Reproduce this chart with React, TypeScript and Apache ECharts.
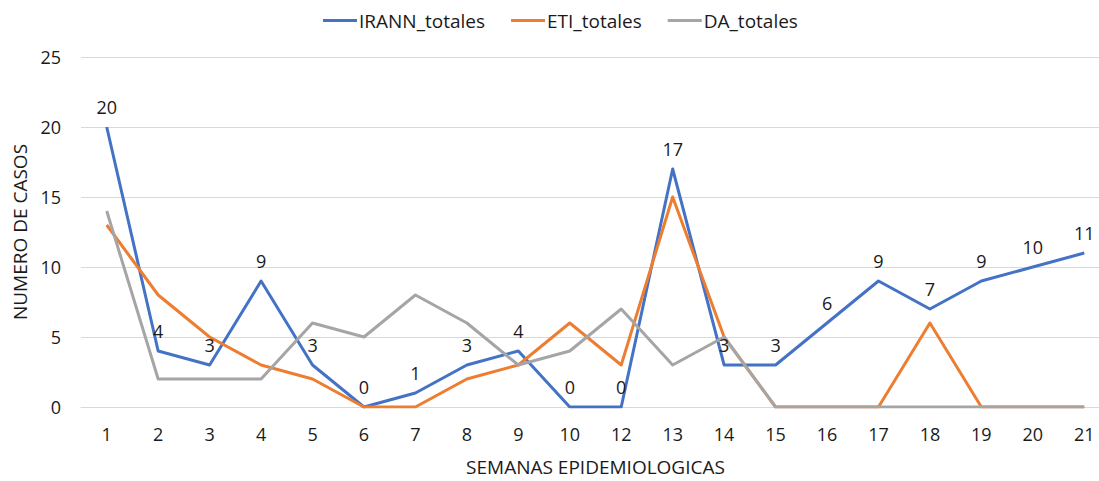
import React, { useEffect, useRef } from "react";
import * as echarts from "echarts";

const categories = ["1", "2", "3", "4", "5", "6", "7", "8", "9", "10", "12", "13", "14", "15", "16", "17", "18", "19", "20", "21"];
const irann = [20, 4, 3, 9, 3, 0, 1, 3, 4, 0, 0, 17, 3, 3, 6, 9, 7, 9, 10, 11];
const eti = [13, 8, 5, 3, 2, 0, 0, 2, 3, 6, 3, 15, 5, 0, 0, 0, 6, 0, 0, 0];
const da = [14, 2, 2, 2, 6, 5, 8, 6, 3, 4, 7, 3, 5, 0, 0, 0, 0, 0, 0, 0];

const FONT = "'Open Sans', sans-serif";
const TXT = "#1a1a1a";

export default function App() {
  const ref = useRef<HTMLDivElement>(null);
  useEffect(() => {
    document.body.style.margin = "0";
    document.body.style.overflow = "hidden";
    const chart = echarts.init(ref.current!, null, { renderer: "svg" });
    const lineSeries = (name: string, data: number[], color: string, labels: boolean) => ({
      name,
      type: "line",
      data,
      symbol: "circle",
      symbolSize: 0,
      showSymbol: true,
      lineStyle: { color, width: 3, join: "round" },
      itemStyle: { color },
      emphasis: { disabled: true },
      label: labels
        ? { show: true, position: "top", distance: 11, color: TXT, fontSize: 18, fontFamily: FONT }
        : { show: false },
    });
    chart.setOption({
      animation: false,
      textStyle: { fontFamily: FONT },
      legend: {
        top: 6,
        left: 318,
        itemWidth: 34,
        itemHeight: 3,
        itemGap: 26,
        icon: "rect",
        textStyle: { fontSize: 19, color: TXT, fontFamily: FONT, padding: [0, 0, 0, -3] },
        data: ["IRANN_totales", "ETI_totales", "DA_totales"],
      },
      grid: { left: 81, right: 0, top: 57, bottom: 71, containLabel: false },
      xAxis: {
        type: "category",
        data: categories,
        boundaryGap: true,
        name: "SEMANAS EPIDEMIOLOGICAS",
        nameLocation: "middle",
        nameGap: 50,
        nameTextStyle: { fontSize: 19, color: TXT, fontFamily: FONT },
        axisLine: { show: true, lineStyle: { color: "#d9d9d9", width: 1 } },
        axisTick: { show: false },
        axisLabel: { fontSize: 18, color: TXT, margin: 18, fontFamily: FONT },
      },
      yAxis: {
        type: "value",
        min: 0,
        max: 25,
        interval: 5,
        name: "NUMERO DE CASOS",
        nameLocation: "middle",
        nameGap: 48,
        nameRotate: 90,
        nameTextStyle: { fontSize: 19, color: TXT, fontFamily: FONT },
        axisLine: { show: false },
        axisTick: { show: false },
        axisLabel: { fontSize: 18, color: TXT, margin: 20, fontFamily: FONT },
        splitLine: { lineStyle: { color: "#d9d9d9", width: 1 } },
      },
      series: [
        lineSeries("IRANN_totales", irann, "#4472C4", true),
        lineSeries("ETI_totales", eti, "#ED7D31", false),
        lineSeries("DA_totales", da, "#A5A5A5", false),
      ],
    });
    return () => chart.dispose();
  }, []);
  return <div ref={ref} style={{ width: 1110, height: 481 }} />;
}
